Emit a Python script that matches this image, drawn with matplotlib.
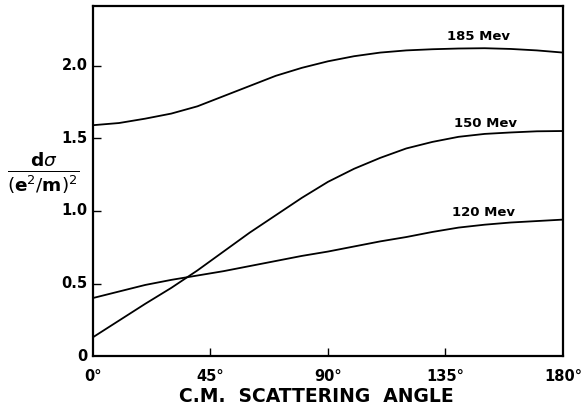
import matplotlib
matplotlib.use("Agg")
import matplotlib.pyplot as plt

plt.rcParams["mathtext.fontset"] = "dejavusans"

# C.M. scattering angle (degrees) and d(sigma)/(e^2/m)^2
angle = [0, 10, 20, 30, 40, 50, 60, 70, 80, 90, 100, 110, 120, 130, 140, 150, 160, 170, 180]
mev_185 = [1.59, 1.605, 1.635, 1.67, 1.72, 1.79, 1.86, 1.93, 1.985, 2.03,
           2.065, 2.09, 2.105, 2.113, 2.118, 2.12, 2.115, 2.105, 2.09]
mev_150 = [0.13, 0.245, 0.36, 0.47, 0.59, 0.72, 0.85, 0.97, 1.09, 1.20,
           1.29, 1.365, 1.43, 1.475, 1.51, 1.53, 1.54, 1.548, 1.55]
mev_120 = [0.40, 0.445, 0.49, 0.525, 0.555, 0.585, 0.62, 0.655, 0.69, 0.72,
           0.755, 0.79, 0.82, 0.855, 0.885, 0.905, 0.92, 0.93, 0.94]

labels = ["185 Mev", "150 Mev", "120 Mev"]
label_pos = [(147.5, 2.20), (150.5, 1.60), (149.5, 0.99)]

xticks = [45, 90, 135]
xtick_labels = ["0°", "45°", "90°", "135°", "180°"]
yticks = [0, 0.5, 1.0, 1.5, 2.0]
ytick_labels = ["0", "0.5", "1.0", "1.5", "2.0"]

fig = plt.figure(figsize=(5.81, 4.07), dpi=100)
ax = fig.add_axes([0.160, 0.125, 0.809, 0.860])

for series in (mev_185, mev_150, mev_120):
    ax.plot(angle, series, color="black", lw=1.3)

for text, (x, y) in zip(labels, label_pos):
    ax.text(x, y, text, ha="center", va="center", fontsize=9.5, fontweight="bold")

ax.set_xlim(0, 180)
ax.set_ylim(0, 2.41)
ax.set_xticks(xticks)
ax.set_xticklabels([])
ax.set_yticks(yticks[1:])
ax.set_yticklabels([])
ax.tick_params(direction="in", length=6, width=1.0)

# tick labels drawn separately so the corner labels (0 and 180) show too
for x, lab in zip([0] + xticks + [180], xtick_labels):
    ax.annotate(lab, (x, 0), xytext=(0, -9), textcoords="offset points",
                ha="center", va="top", fontsize=10.5, fontweight="bold")
for y, lab in zip(yticks, ytick_labels):
    ax.annotate(lab, (0, y), xytext=(-4, 0), textcoords="offset points",
                ha="right", va="center", fontsize=10.5, fontweight="bold")

for sp in ax.spines.values():
    sp.set_linewidth(1.6)

fig.text(0.545, 0.025, "C.M.  SCATTERING  ANGLE", ha="center", va="center",
         fontsize=13.5, fontweight="bold")
fig.text(0.075, 0.575, r"$\frac{\mathbf{d}\sigma}{(\mathbf{e}^2/\mathbf{m})^2}$",
         ha="center", va="center", fontsize=19)

fig.savefig("out.png", dpi=100)
